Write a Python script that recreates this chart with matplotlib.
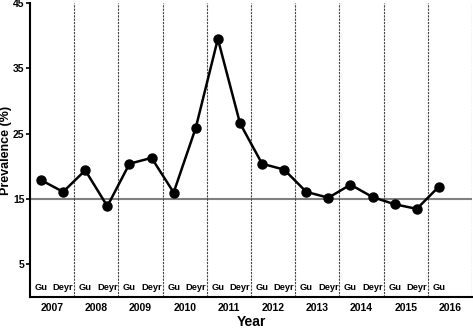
import numpy as np
import matplotlib
matplotlib.use('Agg')
from matplotlib import pyplot as plt

plt.rcParams['font.family'] = ['Liberation Sans', 'DejaVu Sans']
plt.rcParams['font.weight'] = 'bold'

years = ['2007', '2008', '2009', '2010', '2011', '2012', '2013', '2014', '2015', '2016']
seasons = ['Gu', 'Deyr'] * 9 + ['Gu']
prevalence = [17.9, 16.1, 19.4, 13.9, 20.4, 21.3, 16.0, 25.9, 39.5, 26.6,
              20.4, 19.5, 16.1, 15.2, 17.2, 15.3, 14.2, 13.5, 16.9]
threshold = 15
yticks = [5, 15, 25, 35, 45]

fig = plt.figure(figsize=(4.73, 3.29), dpi=100)
ax = fig.add_axes([0.0634, 0.097, 0.9346, 0.894])

x = np.arange(len(prevalence)) + 0.5
ax.axhline(threshold, color='#808080', lw=1.5, zorder=1)
for b in range(2, 2 * len(years) + 1, 2):
    ax.axvline(b, color='#444444', lw=0.8, ls=(0, (2, 1)), zorder=1)
ax.plot(x, prevalence, color='black', lw=1.8, marker='o', ms=6.5, zorder=3)

for xi, s in zip(x, seasons):
    ax.text(xi, 0.8, s, ha='center', va='bottom', fontsize=6.7, fontweight='bold')

ax.set_xlim(0, 2 * len(years))
ax.set_ylim(0, 45)
ax.set_yticks(yticks)
ax.set_yticklabels([str(t) for t in yticks], fontsize=7.5, fontweight='bold')
ax.set_xticks(np.arange(len(years)) * 2 + 1)
ax.set_xticklabels(years, fontsize=7.5, fontweight='bold')
ax.tick_params(axis='x', length=0, pad=4)
ax.tick_params(axis='y', length=3, width=1.2, pad=1)

ax.spines['top'].set_visible(False)
ax.spines['right'].set_visible(False)
ax.spines['left'].set_linewidth(1.5)
ax.spines['bottom'].set_linewidth(1.5)

ax.set_xlabel('Year', fontsize=10, fontweight='bold', labelpad=2)
ax.set_ylabel('Prevalence (%)', fontsize=9, fontweight='bold')
ax.yaxis.set_label_coords(-0.041, 0.5)

fig.savefig('out.png', dpi=100)
